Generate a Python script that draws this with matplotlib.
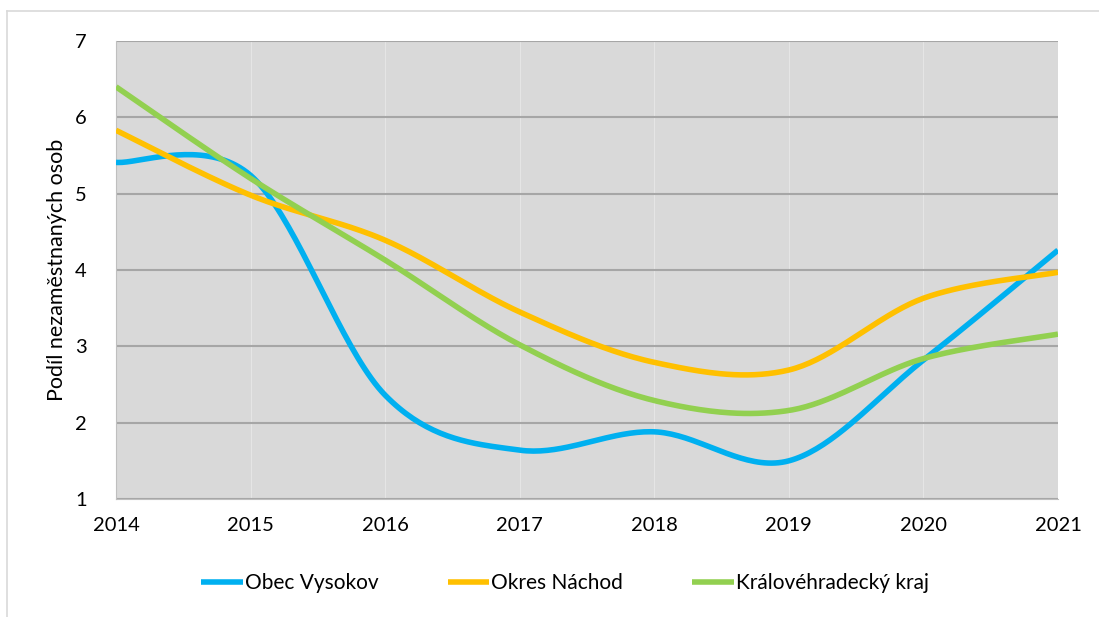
import numpy as np
import matplotlib.pyplot as plt
from matplotlib.lines import Line2D

plt.rcParams['font.family'] = ['Lato', 'DejaVu Sans']

roky = [2014, 2015, 2016, 2017, 2018, 2019, 2020, 2021]
obec_vysokov = [5.41, 5.24, 2.36, 1.64, 1.88, 1.50, 2.82, 4.26]
okres_nachod = [5.83, 4.98, 4.39, 3.45, 2.79, 2.69, 3.63, 3.97]
kralovehradecky = [6.40, 5.20, 4.13, 3.02, 2.29, 2.16, 2.84, 3.16]

barvy = ['#00b0f0', '#ffc000', '#92d050']
nazvy = ['Obec Vysokov', 'Okres Náchod', 'Královéhradecký kraj']


def hladka(x, y, n=40):
    # vyhlazeni jako v Excelu (Bezier s kontrolnimi body 1/6)
    x = np.asarray(x, float)
    y = np.asarray(y, float)
    p = np.column_stack([x, y])
    ext = np.vstack([p[0], p, p[-1]])
    t = np.linspace(0, 1, n)[:, None]
    out = []
    for i in range(len(p) - 1):
        p0, p3 = ext[i + 1], ext[i + 2]
        c1 = p0 + (ext[i + 2] - ext[i]) / 6
        c2 = p3 - (ext[i + 3] - ext[i + 1]) / 6
        seg = ((1 - t) ** 3) * p0 + 3 * ((1 - t) ** 2) * t * c1 + 3 * (1 - t) * t ** 2 * c2 + t ** 3 * p3
        out.append(seg if i == 0 else seg[1:])
    out = np.vstack(out)
    return out[:, 0], out[:, 1]


fig = plt.figure(figsize=(10.99, 6.17), dpi=100)
ax = fig.add_axes([116 / 1099, 1 - 499 / 617, (1058 - 116) / 1099, (499 - 41) / 617])
ax.set_facecolor('#d9d9d9')

for data, c, nm in zip([obec_vysokov, okres_nachod, kralovehradecky], barvy, nazvy):
    xs, ys = hladka(roky, data)
    ax.plot(xs, ys, color=c, lw=4, label=nm, solid_capstyle='butt', zorder=3)

ax.set_xlim(2014, 2021)
ax.set_ylim(1, 7)
ax.set_xticks(roky)
ax.set_yticks(range(1, 8))
ax.tick_params(axis='both', length=0, labelsize=14.5)
ax.tick_params(axis='y', pad=21)
ax.tick_params(axis='x', pad=13)
ax.yaxis.grid(True, color='#a6a6a6', lw=1.5)
ax.xaxis.grid(True, color='#e6e6e6', lw=0.7)
ax.set_axisbelow(True)
for s in ['top', 'right']:
    ax.spines[s].set_visible(False)
ax.spines['left'].set_color('#bfbfbf')
ax.spines['bottom'].set_color('#bfbfbf')
ax.set_ylabel('Podíl nezaměstnaných osob', fontsize=15.5, labelpad=6)

ax.legend(loc='center', bbox_to_anchor=(565 / 1099, 1 - 583 / 617), bbox_transform=fig.transFigure,
          ncol=3, frameon=False, fontsize=15, handlelength=2.0, handletextpad=0.1, columnspacing=3.3)

# okraj grafu
fig.add_artist(Line2D([7 / 1099, 1], [1 - 11 / 617, 1 - 11 / 617], color='#d9d9d9', lw=1.2))
fig.add_artist(Line2D([7 / 1099, 7 / 1099], [0, 1 - 11 / 617], color='#d9d9d9', lw=1.2))

fig.savefig('out.png', dpi=100)
